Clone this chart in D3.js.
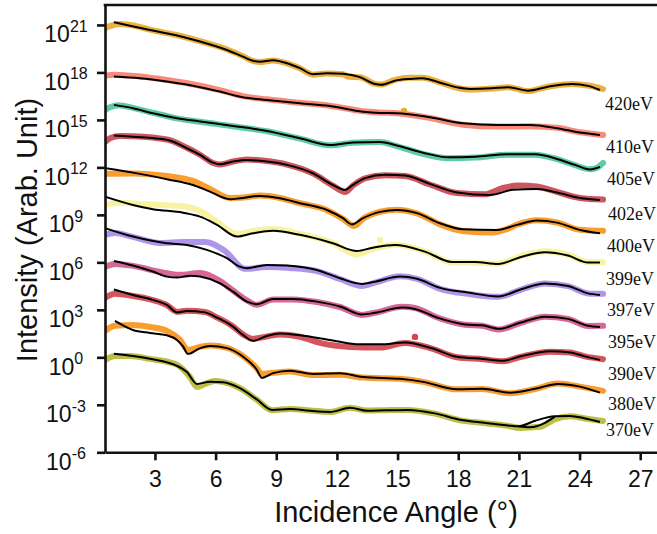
<!DOCTYPE html>
<html>
<head>
<meta charset="utf-8">
<script src="https://cdn.jsdelivr.net/npm/d3@7"></script>
<style>
  html, body { margin: 0; padding: 0; background: #fff; }
  svg { display: block; }
</style>
</head>
<body>
<svg id="chart" width="657" height="534"></svg>
<script>
// Photon energies (top to bottom) and their trace colours
const energies = ["420eV", "410eV", "405eV", "402eV", "400eV", "399eV", "397eV", "395eV", "390eV", "380eV", "370eV"];
const colors = ["#E9A92C", "#F9806E", "#4FC79B", "#C9474F", "#F8951D", "#F6F29B", "#A78CE8", "#D45A8D", "#D1454F", "#F8951D", "#B6B935"];

// Measured reflectivity, [angle (deg), log10 intensity] (curves stacked with offsets)
const data420 = [[0.53,20.79],[0.8,20.94],[1.27,21.06],[2.0,20.95],[2.75,20.7],[4.0,20.38],[5.23,19.97],[6.56,19.45],[7.35,19.03],[7.8,18.74],[8.19,18.66],[8.84,18.76],[9.53,18.57],[10.17,18.26],[10.81,17.86],[11.51,17.94],[12.3,17.88],[12.6,17.72],[13.14,17.7],[13.88,17.28],[14.2,17.24],[14.87,17.53],[15.61,17.66],[16.21,17.66],[17.2,17.33],[17.99,17.02],[18.58,16.92],[19.67,16.98],[20.46,17.07],[21.45,16.82],[22.44,17.1],[23.63,17.27],[24.42,17.17],[25.16,16.95]];
const data410 = [[0.53,17.8],[1.0,17.85],[2.26,17.74],[3.59,17.52],[5.23,17.16],[6.21,16.88],[7.35,16.5],[8.54,16.3],[10.17,16.08],[11.66,15.9],[13.29,15.55],[14.13,15.47],[14.97,15.42],[16.6,15.12],[18.23,14.7],[19.92,14.58],[21.55,14.6],[22.88,14.5],[24.02,14.22],[25.16,14.05]];
const data405 = [[0.53,15.63],[0.8,15.82],[1.2,15.93],[1.91,15.76],[2.9,15.45],[4.09,15.1],[5.23,14.88],[6.86,14.6],[8.54,14.28],[10.17,13.82],[11.66,13.4],[12.79,13.55],[14.13,13.6],[14.87,13.38],[16.35,12.82],[17.49,12.58],[18.83,12.62],[20.46,12.8],[21.8,12.8],[22.93,12.5],[23.77,12.14],[24.52,11.88],[24.9,12.0],[25.16,12.28]];
const data402 = [[0.53,13.61],[0.8,13.86],[1.27,13.99],[1.91,13.97],[3.59,13.76],[4.58,13.24],[5.23,12.8],[5.87,12.28],[6.21,12.18],[6.86,12.37],[7.55,12.5],[8.54,12.4],[9.53,12.18],[10.81,11.62],[11.8,10.85],[12.4,10.45],[12.79,10.85],[13.39,11.3],[14.38,11.5],[15.37,11.45],[16.6,10.92],[17.94,10.38],[19.3,10.3],[20.2,10.7],[21.0,10.85],[21.89,10.8],[22.5,10.6],[24.02,10.07],[25.16,9.97]];
const data400 = [[0.53,11.59],[1.91,11.62],[3.59,11.46],[4.88,11.15],[5.72,10.64],[6.71,10.07],[7.2,10.08],[8.19,10.22],[9.18,10.07],[10.17,9.74],[11.51,9.3],[12.3,8.75],[12.85,8.3],[13.29,8.75],[14.13,9.2],[14.97,9.33],[15.96,9.1],[17.1,8.4],[18.23,7.98],[19.57,7.88],[20.4,8.1],[20.91,8.38],[21.89,8.66],[22.88,8.52],[24.02,8.06],[25.16,7.99]];
const data399 = [[0.53,9.63],[1.27,9.76],[2.26,9.69],[3.25,9.63],[4.24,9.57],[5.23,9.25],[6.07,8.56],[7.06,7.8],[7.85,7.99],[8.84,8.11],[10.17,7.8],[11.8,7.22],[12.99,6.5],[13.78,6.85],[14.87,7.12],[16.35,6.7],[17.69,6.0],[18.83,5.98],[19.97,5.92],[21.15,6.42],[22.29,6.7],[23.43,6.48],[24.42,6.02],[25.16,6.0]];
const data397 = [[0.53,7.74],[1.02,7.86],[1.91,7.61],[3.25,7.23],[4.48,7.29],[5.48,7.29],[6.46,6.72],[7.45,5.59],[8.54,5.71],[9.68,5.65],[11.01,5.45],[12.15,4.95],[13.24,4.51],[13.88,4.72],[15.12,5.12],[15.96,4.96],[17.1,4.33],[18.48,4.01],[19.97,3.82],[21.15,4.3],[22.29,4.67],[23.43,4.5],[24.42,4.04],[25.16,4.01]];
const data395 = [[0.53,5.71],[1.02,5.9],[1.91,5.78],[3.25,5.4],[4.24,5.21],[5.23,5.33],[6.21,4.83],[6.86,4.22],[7.55,3.6],[8.04,3.32],[8.84,3.66],[9.83,3.66],[11.01,3.5],[12.15,3.18],[13.24,2.68],[13.88,2.82],[15.22,3.2],[15.86,3.12],[17.0,2.5],[18.33,2.06],[19.18,2.0],[20.02,1.76],[21.05,2.16],[22.29,2.57],[23.43,2.42],[24.42,1.98],[25.16,1.99]];
const data390 = [[0.53,3.76],[1.02,4.01],[1.91,3.88],[2.9,3.62],[3.59,3.3],[4.09,2.88],[4.58,2.95],[5.47,2.86],[6.07,2.52],[6.86,1.95],[7.35,1.45],[7.85,1.17],[8.54,1.32],[9.18,1.45],[10.17,1.3],[11.16,0.91],[12.65,0.66],[14.13,0.62],[15.37,0.9],[16.7,0.55],[17.94,0.0],[19.22,-0.12],[20.21,-0.25],[21.05,0.02],[22.54,0.36],[23.53,0.3],[24.27,0.06],[25.16,-0.12]];
const data380 = [[0.53,1.67],[1.02,1.99],[1.91,2.05],[2.75,1.92],[3.59,1.67],[4.24,1.1],[4.63,0.47],[5.23,0.66],[5.72,0.74],[6.56,0.6],[7.35,0.08],[8.04,-0.7],[8.29,-1.05],[8.84,-0.98],[9.68,-0.9],[10.81,-1.12],[12.15,-1.1],[13.29,-1.28],[15.12,-1.36],[16.26,-1.55],[17.94,-2.02],[19.18,-2.0],[20.56,-2.27],[21.8,-2.0],[22.93,-1.66],[24.02,-1.85],[25.16,-2.12]];
const data370 = [[0.53,-0.16],[1.02,0.09],[1.77,0.09],[2.75,-0.1],[3.99,-0.41],[4.73,-1.24],[5.08,-1.87],[5.47,-1.68],[5.97,-1.49],[6.36,-1.55],[7.2,-1.95],[8.04,-2.68],[8.79,-3.34],[9.68,-3.26],[10.67,-3.36],[11.66,-3.45],[12.65,-3.18],[13.49,-3.36],[14.38,-3.34],[15.51,-3.32],[16.85,-3.56],[18.09,-3.98],[19.32,-4.16],[20.46,-4.33],[21.05,-4.46],[22.04,-4.39],[22.78,-3.9],[23.53,-3.72],[24.27,-3.86],[25.16,-4.02]];

// Model fits, [angle (deg), log10 intensity]
const fit420 = [[0.97,21.17],[2.75,20.68],[4.0,20.37],[5.23,19.95],[6.56,19.42],[7.35,19.0],[7.8,18.75],[8.19,18.68],[8.84,18.77],[9.53,18.58],[10.17,18.27],[10.81,17.89],[11.51,17.95],[12.3,17.91],[13.14,17.7],[13.88,17.27],[14.2,17.22],[14.87,17.48],[15.61,17.59],[16.21,17.63],[17.2,17.32],[17.99,17.05],[18.58,16.96],[19.67,17.0],[20.46,17.07],[21.45,16.85],[22.44,17.1],[23.63,17.27],[24.42,17.15],[25.01,16.89]];
const fit410 = [[0.97,17.74],[2.26,17.63],[3.59,17.42],[5.23,17.07],[6.21,16.79],[7.35,16.43],[8.54,16.26],[10.17,16.05],[11.66,15.88],[13.29,15.52],[14.13,15.44],[14.97,15.42],[16.6,15.17],[18.23,14.79],[19.92,14.68],[21.55,14.68],[22.88,14.48],[24.02,14.2],[25.01,14.05]];
const fit405 = [[0.97,15.95],[1.91,15.74],[2.9,15.42],[4.09,15.11],[5.23,14.9],[6.86,14.62],[8.54,14.3],[10.17,13.84],[11.66,13.42],[12.79,13.57],[14.13,13.61],[14.87,13.42],[16.35,12.9],[17.49,12.64],[18.83,12.68],[20.46,12.83],[21.8,12.83],[22.93,12.52],[23.77,12.16],[24.52,11.87],[25.01,12.03]];
const fit402 = [[0.97,14.02],[1.91,13.94],[3.59,13.74],[4.58,13.21],[5.23,12.79],[5.87,12.3],[6.21,12.2],[6.86,12.37],[7.55,12.47],[8.54,12.37],[9.53,12.16],[10.81,11.63],[11.8,10.89],[12.4,10.58],[12.79,10.89],[13.39,11.32],[14.38,11.53],[15.37,11.49],[16.6,10.96],[17.94,10.42],[19.57,10.26],[20.71,10.58],[21.89,10.64],[22.88,10.41],[24.02,10.07],[25.01,9.94]];
const fit400 = [[0.53,11.95],[1.91,11.67],[3.59,11.25],[4.88,10.89],[5.72,10.47],[6.71,9.99],[7.2,10.05],[8.19,10.2],[9.18,10.05],[10.17,9.74],[11.51,9.31],[12.3,8.79],[12.74,8.4],[13.29,8.79],[14.13,9.19],[14.97,9.31],[15.96,9.11],[17.1,8.47],[18.23,8.09],[19.92,8.05],[20.91,8.37],[21.89,8.64],[22.88,8.51],[24.02,8.05],[25.01,7.84]];
const fit399 = [[0.53,10.15],[1.91,9.63],[2.9,9.36],[4.39,9.14],[5.23,8.89],[6.07,8.37],[7.06,7.63],[7.85,7.84],[8.84,7.99],[10.17,7.74],[11.8,7.21],[12.99,6.72],[13.78,6.93],[14.87,7.1],[16.35,6.68],[17.69,6.03],[18.83,6.03],[19.97,5.9],[21.15,6.36],[22.29,6.64],[23.43,6.43],[24.42,5.99],[25.01,5.99]];
const fit397 = [[0.53,8.16],[1.91,7.63],[3.59,7.21],[4.58,7.1],[5.57,6.79],[6.56,6.26],[7.2,5.73],[7.55,5.63],[8.54,5.84],[9.53,5.8],[11.01,5.52],[12.15,5.0],[13.24,4.64],[13.88,4.78],[15.12,5.1],[15.96,4.96],[17.1,4.39],[18.48,4.09],[19.97,3.85],[21.15,4.32],[22.29,4.67],[23.43,4.51],[24.42,4.04],[25.01,3.94]];
const fit395 = [[0.97,6.09],[1.91,5.8],[2.9,5.42],[3.59,5.1],[4.09,5.04],[4.73,5.16],[5.23,5.1],[6.21,4.68],[6.86,4.15],[7.55,3.52],[8.04,3.36],[8.84,3.69],[9.83,3.69],[11.01,3.52],[12.15,3.21],[13.24,2.71],[13.88,2.81],[15.22,3.15],[15.86,3.06],[17.0,2.49],[18.33,2.08],[19.18,2.02],[20.02,1.8],[21.05,2.18],[22.29,2.57],[23.43,2.43],[24.42,1.99],[25.01,1.92]];
const fit390 = [[0.97,4.29],[1.91,3.94],[2.9,3.63],[3.59,3.31],[4.09,2.84],[4.58,2.93],[5.47,2.84],[6.07,2.51],[6.86,1.94],[7.35,1.42],[7.85,1.04],[8.54,1.35],[9.18,1.51],[10.17,1.39],[11.66,1.1],[13.14,0.82],[14.13,0.82],[15.37,0.94],[16.7,0.57],[17.94,0.03],[19.22,-0.1],[20.21,-0.22],[21.05,0.05],[22.54,0.38],[23.53,0.31],[24.27,0.06],[25.01,-0.16]];
const fit380 = [[1.02,2.3],[1.91,1.73],[2.75,1.54],[3.59,1.39],[4.09,1.1],[4.39,0.69],[4.63,0.22],[5.23,0.58],[5.72,0.72],[6.56,0.58],[7.35,0.05],[8.04,-0.79],[8.29,-1.3],[8.84,-1.0],[9.68,-0.84],[10.81,-1.05],[12.15,-1.0],[13.29,-1.24],[15.12,-1.36],[16.26,-1.55],[17.94,-2.02],[19.18,-1.99],[20.56,-2.23],[21.8,-1.99],[22.93,-1.68],[24.02,-1.85],[25.01,-2.23]];
const fit370 = [[0.97,0.22],[2.75,-0.09],[4.09,-0.54],[4.58,-0.92],[5.08,-1.68],[5.72,-1.55],[6.36,-1.58],[7.2,-1.95],[8.04,-2.66],[8.79,-3.32],[9.68,-3.26],[10.67,-3.38],[11.66,-3.45],[12.65,-3.19],[13.49,-3.38],[14.38,-3.35],[15.51,-3.32],[16.85,-3.54],[18.09,-3.95],[19.32,-4.14],[20.46,-4.3],[20.96,-4.36],[21.8,-4.01],[22.78,-3.73],[23.53,-3.7],[24.27,-3.86],[25.01,-4.08]];
// second pass of the 370 eV fit over the 21-23 deg fringe
const fit370b = [[20.96,-4.36],[21.55,-4.42],[22.29,-4.14],[22.78,-3.75]];

// isolated data points sitting off their traces: [energy, angle, log10 intensity]
const strayPoints = [["420eV", 15.32, 15.57], ["399eV", 14.13, 7.42], ["390eV", 15.86, 1.29]];

const xTicks = [3, 6, 9, 12, 15, 18, 21, 24, 27];
const yTickExps = [-6, -3, 0, 3, 6, 9, 12, 15, 18, 21];

const dataSets = [data420, data410, data405, data402, data400, data399, data397, data395, data390, data380, data370];
const fitSets = [fit420, fit410, fit405, fit402, fit400, fit399, fit397, fit395, fit390, fit380, fit370];

// label placement relative to the end of each fit: [dx, dy] in px
const labelShift = [[2,20],[3,18],[4,18],[5,20],[4,19],[3,22],[4,21.5],[5,21],[5,20],[5,17.5],[3,14.5]];

const svg = d3.select("#chart");
const padL = 105, padT = 5, axisY = 452.3, edgeR = 657;

const x = d3.scaleLinear().domain([0.53, 28]).range([padL, padL + (28 - 0.53) * 20.22]);
const y = d3.scaleLog().domain([1e-6, Math.pow(10, 22.26)]).range([axisY, padT]);

const line = d3.line()
  .x(d => x(d[0]))
  .y(d => y(Math.pow(10, d[1])))
  .curve(d3.curveMonotoneX);

svg.append("defs").append("clipPath").attr("id", "plot")
  .append("rect").attr("x", padL + 1).attr("y", padT).attr("width", edgeR - padL).attr("height", axisY - padT);

const plot = svg.append("g").attr("clip-path", "url(#plot)");

// measured traces (wide, coloured)
plot.selectAll("path.meas")
  .data(dataSets)
  .join("path")
  .attr("class", "meas")
  .attr("d", line)
  .attr("fill", "none")
  .attr("stroke", (d, i) => colors[i])
  .attr("stroke-width", 6)
  .attr("stroke-linecap", "round")
  .attr("stroke-linejoin", "round")
  .attr("opacity", 0.92);

plot.selectAll("circle.stray")
  .data(strayPoints)
  .join("circle")
  .attr("class", "stray")
  .attr("cx", d => x(d[1]))
  .attr("cy", d => y(Math.pow(10, d[2])))
  .attr("r", 3.2)
  .attr("fill", d => colors[energies.indexOf(d[0])]);

// fits (thin, black)
plot.selectAll("path.fit")
  .data(fitSets.concat([fit370b]))
  .join("path")
  .attr("class", "fit")
  .attr("d", line)
  .attr("fill", "none")
  .attr("stroke", "#000")
  .attr("stroke-width", 2)
  .attr("stroke-linejoin", "round");

// energy labels at the right-hand end of each curve
svg.selectAll("text.energy")
  .data(energies)
  .join("text")
  .attr("class", "energy")
  .attr("x", (d, i) => x(25.16) + labelShift[i][0])
  .attr("y", (d, i) => {
    const f = fitSets[i];
    return y(Math.pow(10, f[f.length - 1][1])) + labelShift[i][1];
  })
  .attr("font-family", "'Liberation Serif', 'Times New Roman', serif")
  .attr("font-size", 18)
  .attr("fill", "#111")
  .text(d => d);

const axisFont = "'Liberation Sans', Arial, Helvetica, sans-serif";

// y axis
const yAxis = svg.append("g")
  .attr("transform", `translate(${padL},0)`)
  .call(d3.axisLeft(y).tickValues(yTickExps.map(e => Math.pow(10, e))).tickFormat("").tickSize(8).tickSizeOuter(0));
yAxis.select(".domain").attr("stroke", "#111").attr("stroke-width", 2.6);
yAxis.selectAll(".tick line").attr("stroke", "#111").attr("stroke-width", 2.6);

svg.selectAll("text.ylab")
  .data(yTickExps)
  .join("text")
  .attr("class", "ylab")
  .attr("x", 66)
  .attr("y", e => y(Math.pow(10, e)) + 17.5)
  .attr("text-anchor", "middle")
  .attr("font-family", axisFont)
  .attr("font-size", 23)
  .attr("fill", "#111")
  .each(function(e) {
    const t = d3.select(this);
    t.append("tspan").text("10");
    t.append("tspan").attr("dy", -10.5).attr("font-size", 16).text(String(e));
  });

// x axis
const xAxis = svg.append("g")
  .attr("transform", `translate(0,${axisY})`)
  .call(d3.axisBottom(x).tickValues(xTicks).tickSize(8).tickSizeOuter(0).tickPadding(10));
xAxis.select(".domain").attr("stroke", "#111").attr("stroke-width", 2.6);
xAxis.selectAll(".tick line").attr("stroke", "#111").attr("stroke-width", 2.6);
xAxis.selectAll(".tick text")
  .attr("font-family", axisFont)
  .attr("font-size", 23)
  .attr("fill", "#111");

// top frame line
svg.append("line")
  .attr("x1", padL - 1.3).attr("x2", edgeR)
  .attr("y1", padT).attr("y2", padT)
  .attr("stroke", "#111").attr("stroke-width", 2.6);

// axis titles
svg.append("text")
  .attr("transform", `translate(37,230) rotate(-90)`)
  .attr("text-anchor", "middle")
  .attr("font-family", axisFont)
  .attr("font-size", 29)
  .attr("fill", "#111")
  .text("Intensity (Arab. Unit)");

svg.append("text")
  .attr("x", 396)
  .attr("y", 521.5)
  .attr("text-anchor", "middle")
  .attr("font-family", axisFont)
  .attr("font-size", 29)
  .attr("fill", "#111")
  .text("Incidence Angle (°)");
</script>
</body>
</html>
